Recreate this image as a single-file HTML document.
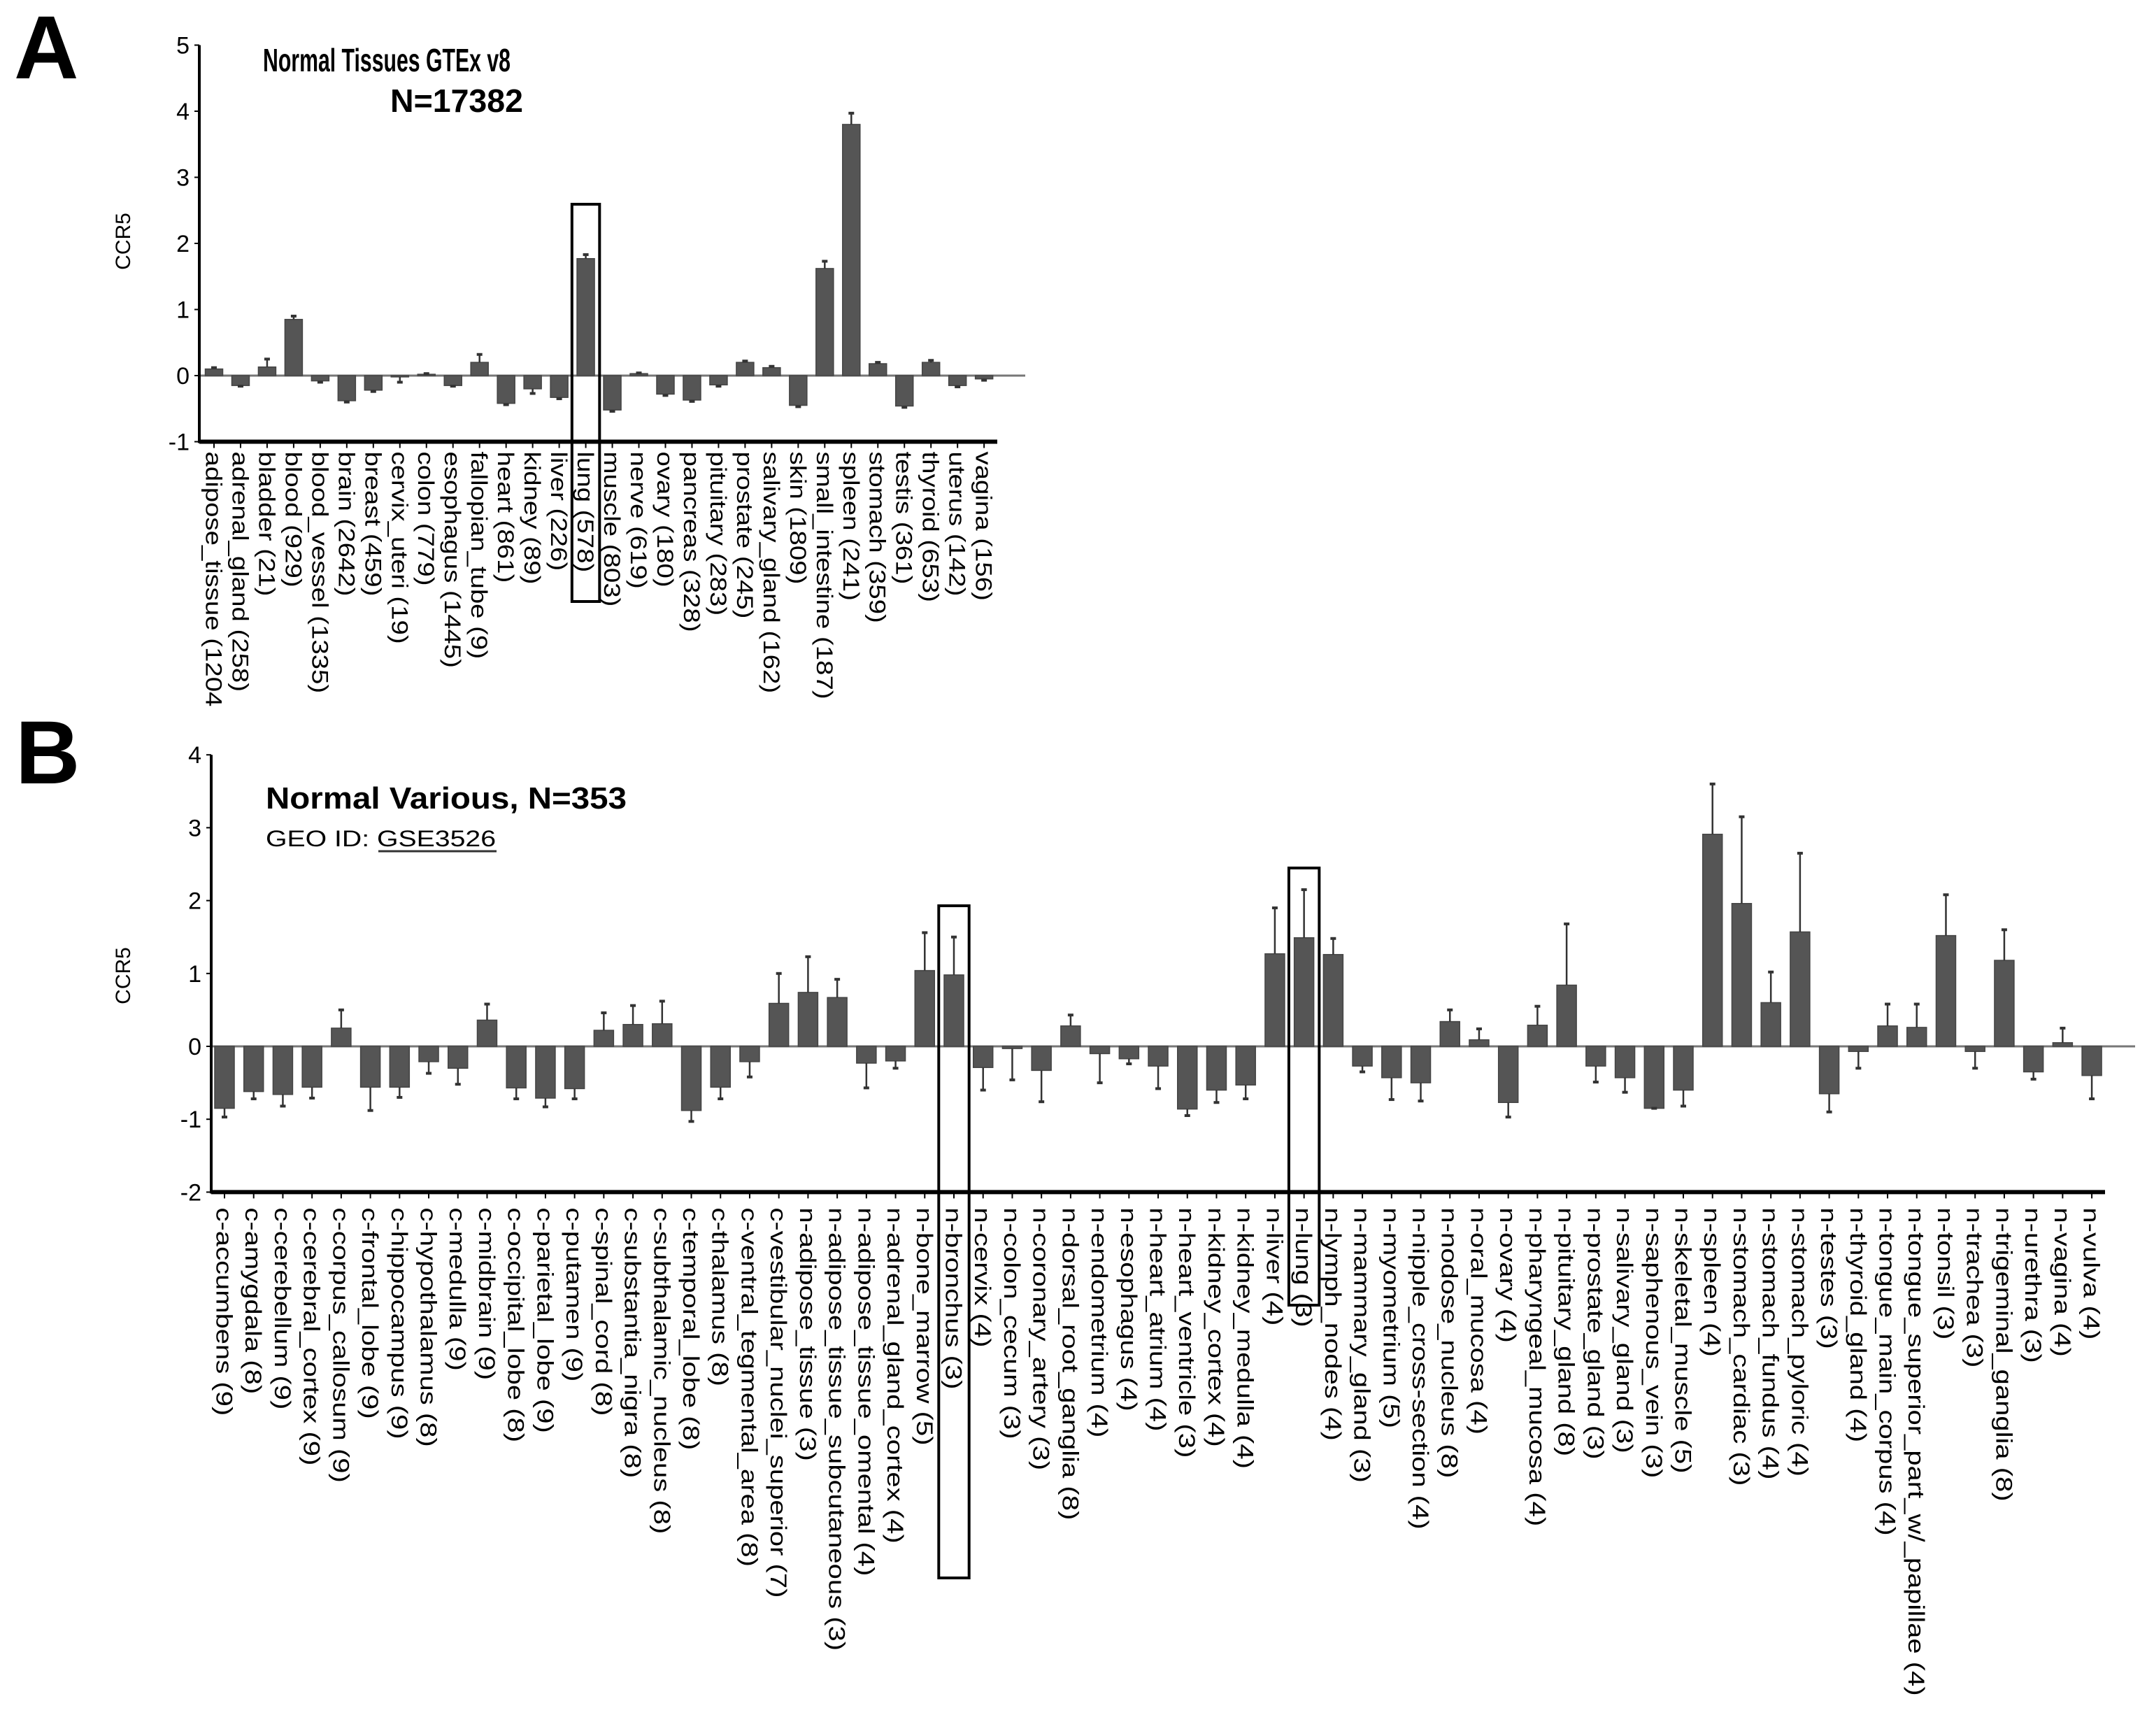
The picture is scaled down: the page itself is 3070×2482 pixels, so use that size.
<!DOCTYPE html>
<html><head><meta charset="utf-8"><style>
html,body{margin:0;padding:0;background:#fff;}
svg{display:block;font-family:"Liberation Sans",Arial,sans-serif;}
</style></head><body>
<svg id="fig" width="3070" height="2482" viewBox="0 0 3070 2482" xmlns="http://www.w3.org/2000/svg">
<text x="20" y="112" font-size="128" font-weight="bold">A</text>
<text x="22" y="1120" font-size="128" font-weight="bold">B</text>
<text x="376" y="102" font-size="46" font-weight="bold" textLength="354" lengthAdjust="spacingAndGlyphs">Normal Tissues GTEx v8</text>
<text x="558" y="160" font-size="46" font-weight="bold" textLength="190" lengthAdjust="spacingAndGlyphs">N=17382</text>
<text x="380" y="1156" font-size="44" font-weight="bold" textLength="516" lengthAdjust="spacingAndGlyphs">Normal Various, N=353</text>
<text x="380" y="1210" font-size="32" textLength="329" lengthAdjust="spacingAndGlyphs">GEO ID: <tspan>GSE3526</tspan></text>
<line x1="541" y1="1217" x2="710" y2="1217" stroke="#333" stroke-width="3"/>
<text transform="translate(186,345) rotate(-90)" text-anchor="middle" font-size="30">CCR5</text>
<text transform="translate(186,1395) rotate(-90)" text-anchor="middle" font-size="30">CCR5</text>
<g id="ga"></g><g id="gb"></g>
</svg>
<script>
var catsA=["adipose_tissue (1204","adrenal_gland (258)","bladder (21)","blood (929)","blood_vessel (1335)","brain (2642)","breast (459)","cervix_uteri (19)","colon (779)","esophagus (1445)","fallopian_tube (9)","heart (861)","kidney (89)","liver (226)","lung (578)","muscle (803)","nerve (619)","ovary (180)","pancreas (328)","pituitary (283)","prostate (245)","salivary_gland (162)","skin (1809)","small_intestine (187)","spleen (241)","stomach (359)","testis (361)","thyroid (653)","uterus (142)","vagina (156)"];
var valsA=[0.1,-0.15,0.13,0.85,-0.08,-0.38,-0.22,-0.02,0.02,-0.15,0.2,-0.42,-0.2,-0.33,1.77,-0.52,0.03,-0.28,-0.37,-0.14,0.2,0.12,-0.45,1.62,3.8,0.18,-0.46,0.2,-0.15,-0.05];
var errA=[0.12,-0.16,0.25,0.9,-0.1,-0.4,-0.24,-0.1,0.03,-0.16,0.32,-0.44,-0.27,-0.35,1.83,-0.54,0.04,-0.3,-0.39,-0.16,0.22,0.14,-0.47,1.73,3.97,0.2,-0.48,0.23,-0.17,-0.07];
var ticksA=[5,4,3,2,1,0,-1];
var catsB=["c-accumbens (9)","c-amygdala (8)","c-cerebellum (9)","c-cerebral_cortex (9)","c-corpus_callosum (9)","c-frontal_lobe (9)","c-hippocampus (9)","c-hypothalamus (8)","c-medulla (9)","c-midbrain (9)","c-occipital_lobe (8)","c-parietal_lobe (9)","c-putamen (9)","c-spinal_cord (8)","c-substantia_nigra (8)","c-subthalamic_nucleus (8)","c-temporal_lobe (8)","c-thalamus (8)","c-ventral_tegmental_area (8)","c-vestibular_nuclei_superior (7)","n-adipose_tissue (3)","n-adipose_tissue_subcutaneous (3)","n-adipose_tissue_omental (4)","n-adrenal_gland_cortex (4)","n-bone_marrow (5)","n-bronchus (3)","n-cervix (4)","n-colon_cecum (3)","n-coronary_artery (3)","n-dorsal_root_ganglia (8)","n-endometrium (4)","n-esophagus (4)","n-heart_atrium (4)","n-heart_ventricle (3)","n-kidney_cortex (4)","n-kidney_medulla (4)","n-liver (4)","n-lung (3)","n-lymph_nodes (4)","n-mammary_gland (3)","n-myometrium (5)","n-nipple_cross-section (4)","n-nodose_nucleus (8)","n-oral_mucosa (4)","n-ovary (4)","n-pharyngeal_mucosa (4)","n-pituitary_gland (8)","n-prostate_gland (3)","n-salivary_gland (3)","n-saphenous_vein (3)","n-skeletal_muscle (5)","n-spleen (4)","n-stomach_cardiac (3)","n-stomach_fundus (4)","n-stomach_pyloric (4)","n-testes (3)","n-thyroid_gland (4)","n-tongue_main_corpus (4)","n-tongue_superior_part_w/_papillae (4)","n-tonsil (3)","n-trachea (3)","n-trigeminal_ganglia (8)","n-urethra (3)","n-vagina (4)","n-vulva (4)"];
var valsB=[-0.85,-0.62,-0.66,-0.56,0.25,-0.56,-0.56,-0.21,-0.3,0.36,-0.57,-0.71,-0.58,0.22,0.3,0.31,-0.88,-0.56,-0.21,0.59,0.74,0.67,-0.23,-0.2,1.04,0.98,-0.29,-0.03,-0.33,0.28,-0.1,-0.17,-0.27,-0.86,-0.6,-0.53,1.27,1.49,1.26,-0.27,-0.43,-0.5,0.34,0.09,-0.77,0.29,0.84,-0.27,-0.43,-0.85,-0.6,2.91,1.96,0.6,1.57,-0.65,-0.07,0.28,0.26,1.52,-0.07,1.18,-0.35,0.05,-0.4];
var errB=[-0.97,-0.72,-0.82,-0.71,0.5,-0.88,-0.7,-0.37,-0.52,0.58,-0.72,-0.83,-0.72,0.46,0.56,0.62,-1.03,-0.72,-0.42,1.0,1.23,0.92,-0.57,-0.3,1.56,1.5,-0.6,-0.46,-0.76,0.43,-0.5,-0.24,-0.58,-0.95,-0.77,-0.72,1.9,2.15,1.48,-0.35,-0.73,-0.75,0.5,0.24,-0.97,0.55,1.68,-0.49,-0.63,-0.85,-0.82,3.6,3.15,1.02,2.65,-0.9,-0.3,0.58,0.58,2.08,-0.3,1.6,-0.45,0.25,-0.72];
var ticksB=[4,3,2,1,0,-1,-2];
var NS="http://www.w3.org/2000/svg";
function mk(p,t,a){var e=document.createElementNS(NS,t);for(var k in a)e.setAttribute(k,a[k]);p.appendChild(e);return e;}
function panel(g,cfg,cats,vals,errs,ticks,pre){
  function y(v){return cfg.y0-v*cfg.unit;}
  function x(i){return cfg.x0+i*cfg.step;}
  var bottom=y(cfg.min), top=y(cfg.max);
  ticks.forEach(function(t){
    var tl=mk(g,'text',{x:cfg.axisX-14,y:y(t)+12,'text-anchor':'end','font-size':34});
    tl.textContent=t;
    
    
    var tm=mk(g,'line',{x1:cfg.axisX-7,x2:cfg.axisX,y1:y(t),y2:y(t),stroke:'#000','stroke-width':2});
    
    
  });
  var zl=mk(g,'line',{x1:cfg.axisX,x2:cfg.zeroEnd,y1:y(0),y2:y(0),stroke:'#777','stroke-width':3});
  
  
  cats.forEach(function(c,i){
    var cx=x(i),v=vals[i],e=errs[i];
    var b=mk(g,'rect',{x:cx-cfg.bw/2,y:Math.min(y(v),y(0)),width:cfg.bw,height:Math.abs(y(v)-y(0)),fill:'#555',stroke:'#444','stroke-width':1.5});
    
    
    var el=mk(g,'line',{x1:cx,x2:cx,y1:y(v),y2:y(e),stroke:'#333','stroke-width':2.5});
    
    
    var ec=mk(g,'line',{x1:cx-4,x2:cx+4,y1:y(e),y2:y(e),stroke:'#333','stroke-width':4});
    
    
    var xt=mk(g,'line',{x1:cx,x2:cx,y1:bottom,y2:bottom+9,stroke:'#000','stroke-width':2});
    
    
    var lx=cx-cfg.fs*0.36, ly=bottom+cfg.labGap;
    var t=mk(g,'text',{transform:'translate('+lx+','+ly+') rotate(90) scale('+cfg.stretch+',1)','font-size':cfg.fs});
    t.textContent=c;
    
    
  });
  var ya=mk(g,'line',{x1:cfg.axisX,x2:cfg.axisX,y1:top,y2:bottom+2,stroke:'#000','stroke-width':4});
  
  
  var xa=mk(g,'line',{x1:cfg.axisX,x2:cfg.axisEnd,y1:bottom,y2:bottom,stroke:'#000','stroke-width':6});
  
  
  cfg.boxes.forEach(function(bx){
    var r=mk(g,'rect',{x:x(bx.i)-cfg.step*0.52,y:bx.top,width:cfg.step*1.04,height:bx.bot-bx.top,fill:'none',stroke:'#000','stroke-width':4});
    
    
  });
}
panel(document.getElementById('ga'),{y0:537,unit:94.5,x0:306,step:37.97,bw:25,axisX:285,axisEnd:1426,zeroEnd:1466,min:-1,max:5,fs:32,stretch:1.2,labGap:14,boxes:[{i:14,top:292,bot:860}]},catsA,valsA,errA,ticksA,'panel-a-');
panel(document.getElementById('gb'),{y0:1496,unit:104.2,x0:321,step:41.72,bw:28,axisX:302,axisEnd:3010,zeroEnd:3053,min:-2,max:4,fs:32,stretch:1.25,labGap:22,boxes:[{i:25,top:1295,bot:2256},{i:37,top:1241,bot:1866}]},catsB,valsB,errB,ticksB,'panel-b-');
</script>
</body></html>
